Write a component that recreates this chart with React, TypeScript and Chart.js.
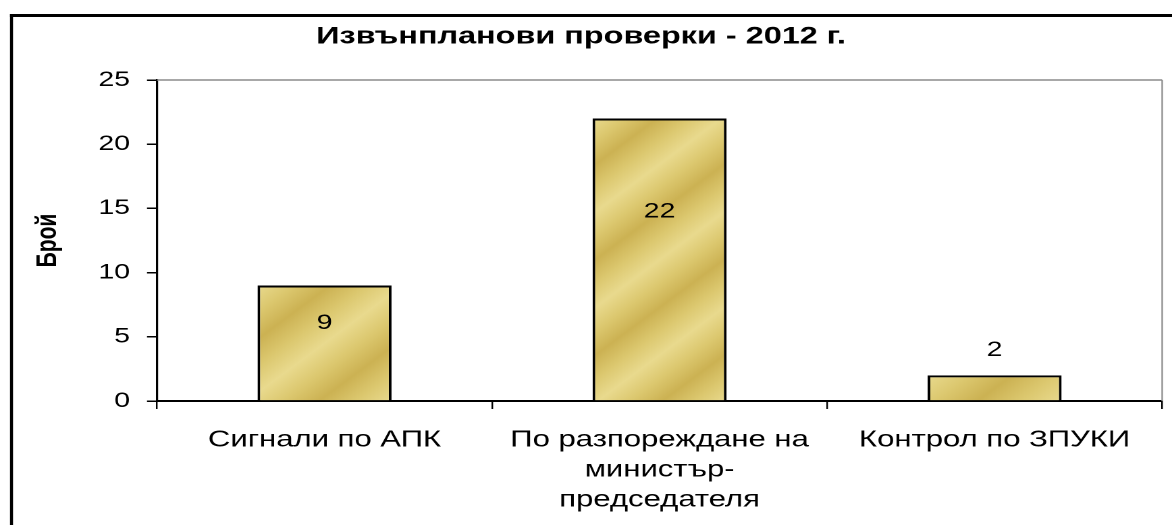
import React, { useEffect, useRef } from "react";
import { Chart, registerables } from "chart.js";

Chart.register(...registerables);

const categories: (string | string[])[] = [
  "Сигнали по АПК",
  ["По разпореждане на", "министър-", "председателя"],
  "Контрол по ЗПУКИ",
];
const values: number[] = [9, 22, 2];
const chartTitle = "Извънпланови проверки - 2012 г.";
const yTitle = "Брой";
const yMin = 0;
const yMax = 25;
const yStep = 5;

const FONT = "'Liberation Sans', Arial, sans-serif";
// The reference is horizontally stretched; draw narrower and stretch with CSS.
const PAGE_W = 1172;
const PAGE_H = 525;
const CANVAS_W = 868;
const SX = PAGE_W / CANVAS_W;
const CAT_PCT = 0.4;

const frameAndLabels = {
  id: "frameAndLabels",
  beforeDraw(chart: any) {
    const { ctx } = chart;
    ctx.save();
    ctx.fillStyle = "#ffffff";
    ctx.fillRect(0, 0, chart.width, chart.height);
    ctx.restore();
  },
  afterDraw(chart: any) {
    const { ctx, chartArea } = chart;
    ctx.save();
    // plot area top/right gray border
    ctx.strokeStyle = "#8c8c8c";
    ctx.lineWidth = 1.5;
    ctx.beginPath();
    ctx.moveTo(chartArea.left, chartArea.top);
    ctx.lineTo(chartArea.right, chartArea.top);
    ctx.stroke();
    ctx.lineWidth = 1.5 / SX;
    ctx.beginPath();
    ctx.moveTo(chartArea.right, chartArea.top);
    ctx.lineTo(chartArea.right, chartArea.bottom);
    ctx.stroke();
    // outer frame (top + left visible)
    ctx.strokeStyle = "#000000";
    ctx.lineWidth = 3;
    ctx.beginPath();
    ctx.moveTo(10 / SX, 15.5);
    ctx.lineTo(chart.width + 5, 15.5);
    ctx.stroke();
    ctx.lineWidth = 3 / SX;
    ctx.beginPath();
    ctx.moveTo(11.5 / SX, 14);
    ctx.lineTo(11.5 / SX, chart.height + 5);
    ctx.stroke();
    // data labels
    const meta = chart.getDatasetMeta(0);
    ctx.fillStyle = "#000000";
    ctx.font = `21px ${FONT}`;
    ctx.textAlign = "center";
    ctx.textBaseline = "middle";
    meta.data.forEach((bar: any, i: number) => {
      const h = bar.base - bar.y;
      const y = h > 60 ? bar.y + h * 0.33 : bar.y - 25;
      ctx.fillText(String(values[i]), bar.x, y);
    });
    ctx.restore();
  },
};

function barGradient(context: any) {
  const chart = context.chart;
  const xs = chart.scales && chart.scales.x;
  const ys = chart.scales && chart.scales.y;
  if (!xs || !ys || !chart.chartArea) return "#d9c56a";
  const i = context.dataIndex;
  const cx = xs.getPixelForValue(i);
  const w = (xs.width / categories.length) * CAT_PCT;
  const top = ys.getPixelForValue(values[i]);
  const base = ys.getPixelForValue(0);
  const h = base - top;
  const x0 = cx - w / 2;
  const L = (w + h) / 2;
  const g = chart.ctx.createLinearGradient(x0, top, x0 + L, top + L);
  const period = 75;
  const n = Math.max(1, Math.round((L * Math.SQRT2) / period));
  const light = "#e9da8e";
  const mid = "#dcc86f";
  const dark = "#ccb253";
  for (let k = 0; k < n; k++) {
    const a = k / n;
    g.addColorStop(a, light);
    g.addColorStop(a + 0.25 / n, mid);
    g.addColorStop(a + 0.5 / n, dark);
    g.addColorStop(a + 0.75 / n, mid);
  }
  g.addColorStop(1, light);
  return g;
}

export default function App() {
  const canvasRef = useRef<HTMLCanvasElement | null>(null);

  useEffect(() => {
    if (!canvasRef.current) return;
    const chart = new Chart(canvasRef.current, {
      type: "bar",
      data: {
        labels: categories,
        datasets: [
          {
            data: values,
            backgroundColor: barGradient,
            borderColor: "#000000",
            borderWidth: 2,
            categoryPercentage: CAT_PCT,
            barPercentage: 1,
          },
        ],
      },
      options: {
        responsive: false,
        animation: false,
        devicePixelRatio: 2,
        layout: { padding: { left: 0, top: 0, right: 7.3, bottom: 0 } },
        plugins: {
          legend: { display: false },
          tooltip: { enabled: false },
          title: {
            display: true,
            text: chartTitle,
            color: "#000000",
            font: { family: FONT, size: 24, weight: "bold", lineHeight: 1.2 },
            padding: { top: 22.6, bottom: 28.6 },
          },
        },
        scales: {
          x: {
            grid: {
              offset: true,
              drawOnChartArea: false,
              drawTicks: true,
              tickLength: 8,
              color: "#000000",
              lineWidth: 1.2,
            },
            border: { color: "#000000", width: 2 },
            ticks: {
              color: "#000000",
              font: { family: FONT, size: 23, lineHeight: 1.304 },
              padding: 16,
              maxRotation: 0,
              autoSkip: false,
            },
            afterFit(scale: any) {
              scale.height = 124;
            },
          },
          y: {
            min: yMin,
            max: yMax,
            grid: {
              drawOnChartArea: false,
              drawTicks: true,
              tickLength: 10 / SX,
              color: "#000000",
              lineWidth: 1.5,
            },
            border: { color: "#000000", width: 1.6 },
            ticks: {
              stepSize: yStep,
              color: "#000000",
              font: { family: FONT, size: 21 },
              padding: 12.6,
            },
            title: {
              display: true,
              text: yTitle,
              color: "#000000",
              font: { family: FONT, size: 21, weight: "bold", lineHeight: 1.2 },
              padding: { top: 35.6 - 12.6, bottom: 0 },
            },
            afterFit(scale: any) {
              scale.width = 157 / SX;
            },
          },
        },
      },
      plugins: [frameAndLabels],
    });
    return () => chart.destroy();
  }, []);

  return (
    <div
      style={{
        position: "absolute",
        left: 0,
        top: 0,
        width: PAGE_W,
        height: PAGE_H,
        overflow: "hidden",
        background: "#ffffff",
      }}
    >
      <canvas
        ref={canvasRef}
        width={CANVAS_W}
        height={PAGE_H}
        style={{ display: "block", transform: `scaleX(${SX})`, transformOrigin: "0 0" }}
      />
    </div>
  );
}
